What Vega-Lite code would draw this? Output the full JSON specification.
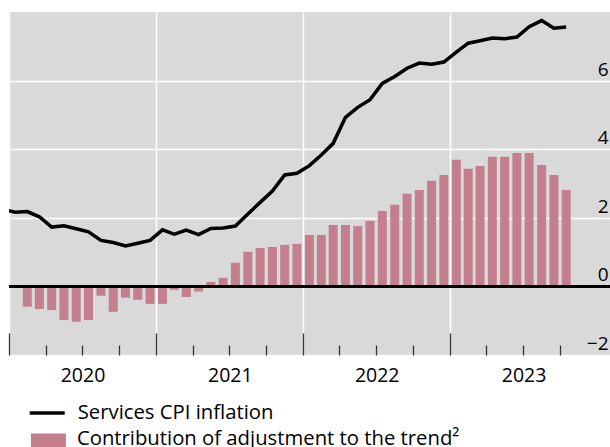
{
  "$schema": "https://vega.github.io/schema/vega-lite/v6.json",
  "width": 601,
  "height": 343,
  "autosize": "none",
  "padding": {"left": 9, "top": 12, "right": 0, "bottom": 92},
  "background": "white",
  "config": {
    "view": {"fill": "#d9d9d9", "stroke": null},
    "font": "Open Sans",
    "axis": {"labelFont": "Open Sans", "labelColor": "#000000", "title": null},
    "legend": {"labelFont": "Open Sans", "labelColor": "#000000", "padding": 0, "labelLimit": 0}
  },
  "data": {
    "values": [
      {"date": "2019-12-01", "services_cpi": 2.25, "adjustment": null},
      {"date": "2020-01-01", "services_cpi": 2.16, "adjustment": null},
      {"date": "2020-02-01", "services_cpi": 2.18, "adjustment": -0.59},
      {"date": "2020-03-01", "services_cpi": 2.03, "adjustment": -0.66},
      {"date": "2020-04-01", "services_cpi": 1.73, "adjustment": -0.69},
      {"date": "2020-05-01", "services_cpi": 1.77, "adjustment": -0.98},
      {"date": "2020-06-01", "services_cpi": 1.68, "adjustment": -1.03},
      {"date": "2020-07-01", "services_cpi": 1.59, "adjustment": -0.98},
      {"date": "2020-08-01", "services_cpi": 1.34, "adjustment": -0.27},
      {"date": "2020-09-01", "services_cpi": 1.28, "adjustment": -0.74},
      {"date": "2020-10-01", "services_cpi": 1.18, "adjustment": -0.33},
      {"date": "2020-11-01", "services_cpi": 1.26, "adjustment": -0.39},
      {"date": "2020-12-01", "services_cpi": 1.34, "adjustment": -0.51},
      {"date": "2021-01-01", "services_cpi": 1.65, "adjustment": -0.51},
      {"date": "2021-02-01", "services_cpi": 1.52, "adjustment": -0.10},
      {"date": "2021-03-01", "services_cpi": 1.64, "adjustment": -0.31},
      {"date": "2021-04-01", "services_cpi": 1.51, "adjustment": -0.15},
      {"date": "2021-05-01", "services_cpi": 1.69, "adjustment": 0.13},
      {"date": "2021-06-01", "services_cpi": 1.70, "adjustment": 0.25},
      {"date": "2021-07-01", "services_cpi": 1.76, "adjustment": 0.69},
      {"date": "2021-08-01", "services_cpi": 2.11, "adjustment": 1.01},
      {"date": "2021-09-01", "services_cpi": 2.45, "adjustment": 1.12},
      {"date": "2021-10-01", "services_cpi": 2.78, "adjustment": 1.15},
      {"date": "2021-11-01", "services_cpi": 3.25, "adjustment": 1.21},
      {"date": "2021-12-01", "services_cpi": 3.30, "adjustment": 1.24},
      {"date": "2022-01-01", "services_cpi": 3.52, "adjustment": 1.50},
      {"date": "2022-02-01", "services_cpi": 3.83, "adjustment": 1.50},
      {"date": "2022-03-01", "services_cpi": 4.17, "adjustment": 1.79},
      {"date": "2022-04-01", "services_cpi": 4.93, "adjustment": 1.79},
      {"date": "2022-05-01", "services_cpi": 5.22, "adjustment": 1.76},
      {"date": "2022-06-01", "services_cpi": 5.44, "adjustment": 1.91},
      {"date": "2022-07-01", "services_cpi": 5.92, "adjustment": 2.20},
      {"date": "2022-08-01", "services_cpi": 6.12, "adjustment": 2.38},
      {"date": "2022-09-01", "services_cpi": 6.36, "adjustment": 2.70},
      {"date": "2022-10-01", "services_cpi": 6.51, "adjustment": 2.81},
      {"date": "2022-11-01", "services_cpi": 6.48, "adjustment": 3.08},
      {"date": "2022-12-01", "services_cpi": 6.54, "adjustment": 3.25},
      {"date": "2023-01-01", "services_cpi": 6.83, "adjustment": 3.69},
      {"date": "2023-02-01", "services_cpi": 7.09, "adjustment": 3.43},
      {"date": "2023-03-01", "services_cpi": 7.16, "adjustment": 3.51},
      {"date": "2023-04-01", "services_cpi": 7.24, "adjustment": 3.78},
      {"date": "2023-05-01", "services_cpi": 7.22, "adjustment": 3.78},
      {"date": "2023-06-01", "services_cpi": 7.27, "adjustment": 3.89},
      {"date": "2023-07-01", "services_cpi": 7.57, "adjustment": 3.89},
      {"date": "2023-08-01", "services_cpi": 7.75, "adjustment": 3.54},
      {"date": "2023-09-01", "services_cpi": 7.53, "adjustment": 3.25},
      {"date": "2023-10-01", "services_cpi": 7.56, "adjustment": 2.81}
    ]
  },
  "resolve": {"axis": {"x": "independent"}},
  "layer": [
    {
      "mark": {"type": "bar", "width": 9},
      "encoding": {
        "x": {
          "field": "date", "timeUnit": "yearmonth", "type": "temporal", "bandPosition": 0.5,
          "scale": {"domain": [{"year": 2020, "month": 1, "date": 1}, {"year": 2024, "month": 2, "date": 2, "hours": 8}]},
          "axis": {
            "orient": "bottom",
            "values": [{"year": 2020, "month": 1, "date": 1}, {"year": 2021, "month": 1, "date": 1}, {"year": 2022, "month": 1, "date": 1}, {"year": 2023, "month": 1, "date": 1}],
            "format": "%Y",
            "grid": true, "gridColor": "#ffffff", "gridWidth": 1.5, "gridOpacity": 1,
            "domain": false,
            "ticks": true, "tickSize": -22, "tickColor": "#333333", "tickWidth": 1.3,
            "labels": true, "labelFontSize": 19.5, "labelOffset": 73.5, "labelPadding": 33,
            "labelFlush": false, "labelOverlap": false, "labelBound": false,
            "labelAlign": "center", "labelBaseline": "top"
          }
        },
        "y": {
          "field": "adjustment", "type": "quantitative",
          "scale": {"domain": [-2, 8], "nice": false, "zero": false},
          "axis": {
            "orient": "right",
            "values": [-2, 0, 2, 4, 6],
            "grid": true, "gridColor": "#ffffff", "gridWidth": 1.5, "gridOpacity": 1,
            "domain": false, "ticks": false,
            "labelFontSize": 19, "labelAlign": "right", "labelPadding": -2,
            "labelBaseline": "alphabetic", "labelOffset": -5.5, "labelBound": false, "labelFlush": false
          }
        },
        "fill": {
          "datum": "Contribution of adjustment to the trend²", "type": "nominal",
          "scale": {"range": ["#c47f8e"]},
          "legend": {
            "title": null, "orient": "none", "legendX": 21.9, "legendY": 409,
            "symbolType": "M-1,-0.28L1,-0.28L1,0.72L-1,0.72Z", "symbolSize": 1225,
            "symbolStrokeWidth": 0, "labelFontSize": 20.3, "labelOffset": 11
          }
        }
      }
    },
    {
      "mark": {"type": "line", "color": "#000000", "strokeWidth": 3.5, "clip": true},
      "encoding": {
        "x": {
          "field": "date", "timeUnit": "yearmonth", "type": "temporal", "bandPosition": 0.5,
          "axis": {
            "orient": "bottom",
            "values": [
              {"year": 2020, "month": 4, "date": 1}, {"year": 2020, "month": 7, "date": 1}, {"year": 2020, "month": 10, "date": 1},
              {"year": 2021, "month": 4, "date": 1}, {"year": 2021, "month": 7, "date": 1}, {"year": 2021, "month": 10, "date": 1},
              {"year": 2022, "month": 4, "date": 1}, {"year": 2022, "month": 7, "date": 1}, {"year": 2022, "month": 10, "date": 1},
              {"year": 2023, "month": 4, "date": 1}, {"year": 2023, "month": 7, "date": 1}, {"year": 2023, "month": 10, "date": 1}
            ],
            "grid": false, "domain": false, "labels": false,
            "ticks": true, "tickSize": -10, "tickColor": "#333333", "tickWidth": 1.3
          }
        },
        "y": {"field": "services_cpi", "type": "quantitative"},
        "stroke": {
          "datum": "Services CPI inflation", "type": "nominal",
          "scale": {"range": ["#000000"]},
          "legend": {
            "title": null, "orient": "none", "legendX": 18.7, "legendY": 381.5,
            "symbolType": "stroke", "symbolSize": 1225, "symbolStrokeWidth": 3.5,
            "labelFontSize": 20.3, "labelOffset": 11
          }
        }
      }
    },
    {
      "mark": {"type": "rule", "color": "#000000", "strokeWidth": 2},
      "encoding": {"y": {"datum": 0}}
    }
  ]
}
